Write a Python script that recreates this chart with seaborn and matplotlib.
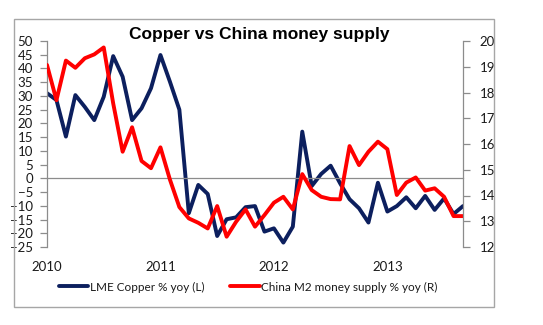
import matplotlib
matplotlib.use("Agg")
import matplotlib.pyplot as plt
from matplotlib.patches import Rectangle
import numpy as np
import pandas as pd
import seaborn as sns

# Monthly observations, Jan 2010 - Sep 2013
months = pd.date_range("2010-01-01", periods=45, freq="MS")

copper_yoy = [31.0, 28.5, 15.2, 30.3, 26.0, 21.2, 29.7, 44.5, 37.0, 21.2,
              25.5, 32.8, 44.9, 35.2, 25.0, -12.7, -2.4, -5.7, -21.0, -14.9,
              -14.2, -10.5, -10.1, -19.4, -18.2, -23.4, -17.6, 17.0, -2.8, 1.6,
              4.6, -1.8, -7.6, -10.9, -16.1, -1.6, -12.1, -10.1, -6.9, -10.9,
              -6.4, -11.5, -7.3, -13.0, -10.1]

m2_yoy = [19.07, 17.7, 19.24, 18.96, 19.33, 19.48, 19.75, 17.58, 15.7, 16.65,
          15.34, 15.06, 15.87, 14.62, 13.55, 13.11, 12.94, 12.72, 13.59, 12.4,
          12.98, 13.46, 12.79, 13.24, 13.72, 13.95, 13.46, 14.83, 14.21, 13.95,
          13.86, 13.85, 15.92, 15.18, 15.7, 16.09, 15.8, 14.02, 14.5, 14.7,
          14.19, 14.28, 13.95, 13.2, 13.2]

year_labels = ["2010", "2011", "2012", "2013"]
copper_label = "LME Copper % yoy (L)"
m2_label = "China M2 money supply % yoy (R)"
title = "Copper vs China money supply"

df = pd.DataFrame({"month": months, "copper": copper_yoy, "m2": m2_yoy})
df["idx"] = np.arange(len(df))

sns.set_style("white")
plt.rcParams["font.family"] = ["Lato", "DejaVu Sans"]

NAVY = "#0C1F5E"
RED = "#FF0000"
GRAY = "#8C8C8C"
TXT = "#1a1a1a"

W, H = 543, 325
fig = plt.figure(figsize=(W / 100, H / 100), dpi=100)
ax = fig.add_axes([47 / W, 1 - 247 / H, 416 / W, 206 / H])
ax.set_facecolor("none")

sns.lineplot(data=df, x="idx", y="copper", ax=ax, color=NAVY, lw=2.8,
             label=copper_label, legend=False)
ax2 = ax.twinx()
sns.lineplot(data=df, x="idx", y="m2", ax=ax2, color=RED, lw=2.8,
             label=m2_label, legend=False)

ax.set_xlim(0, len(df) - 1)
ax.set_ylim(-25, 50)
ax.set_yticks(np.arange(-25, 51, 5))
ax2.set_ylim(12, 20)
ax2.set_yticks(np.arange(12, 21, 1))
ax.set_xlabel("")
ax.set_ylabel("")
ax2.set_ylabel("")

# category axis runs along zero, year labels sit under the plot
for a in (ax, ax2):
    a.spines["top"].set_visible(False)
    a.spines["bottom"].set_visible(False)
    a.grid(False)
ax.spines["bottom"].set_visible(True)
ax.spines["bottom"].set_position(("data", 0))
ax.spines["bottom"].set_color(GRAY)
ax.spines["bottom"].set_linewidth(0.9)
ax.spines["left"].set_color(GRAY)
ax.spines["left"].set_linewidth(0.9)
ax.spines["right"].set_visible(False)
ax2.spines["left"].set_visible(False)
ax2.spines["right"].set_color(GRAY)
ax2.spines["right"].set_linewidth(0.9)

year_pos = df.index[df["month"].dt.month == 1].to_numpy()
ax.set_xticks(year_pos)
ax.tick_params(axis="x", length=4, width=0.9, color=GRAY, direction="out",
               labelbottom=False)
ax.tick_params(axis="y", length=5, width=0.9, color=GRAY, direction="out",
               pad=5, labelsize=9.5, labelcolor=TXT)
ax2.tick_params(axis="y", length=5, width=0.9, color=GRAY, direction="out",
                pad=7, labelsize=9.5, labelcolor=TXT)

sec = ax.secondary_xaxis(0.0)
sec.set_xticks(year_pos, labels=year_labels[:len(year_pos)])
sec.spines["bottom"].set_visible(False)
sec.tick_params(length=0, pad=10, labelsize=9.5, labelcolor=TXT)

fig.text(259 / W, 1 - 34 / H, title, ha="center", va="center",
         fontsize=12.5, fontweight="bold", color="black",
         family=["Liberation Sans", "DejaVu Sans"])

handles = ax.get_lines()[:1] + ax2.get_lines()[:1]
fig.legend(handles, [copper_label, m2_label], loc="center",
           bbox_to_anchor=(248 / W, 1 - 287 / H), ncol=2, frameon=False,
           fontsize=8.5, handlelength=2.5, handletextpad=0.1,
           columnspacing=2.2, labelcolor=TXT)

fig.patches.append(Rectangle((14 / W, 1 - 307 / H), 480 / W, 288 / H,
                             transform=fig.transFigure, fill=False,
                             edgecolor="#A6A6A6", linewidth=1.0))

fig.savefig("out.png", dpi=100, facecolor="white")
